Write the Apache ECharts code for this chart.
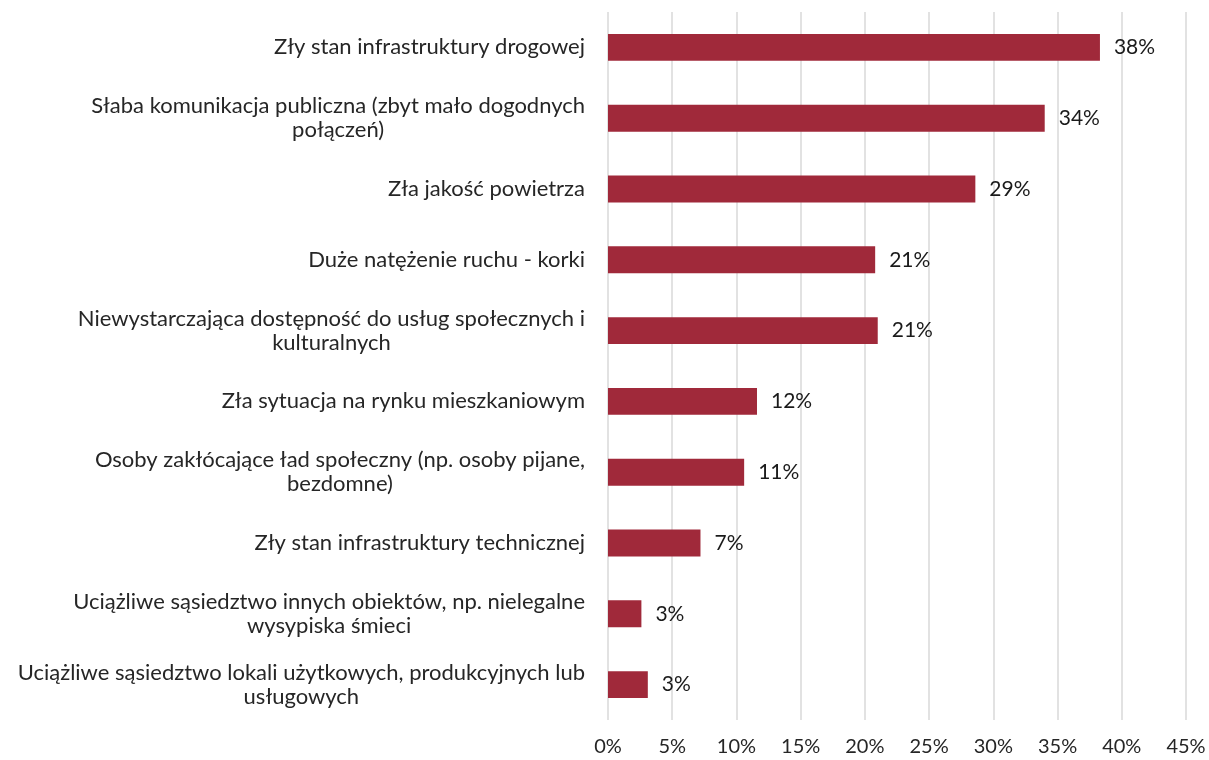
<!DOCTYPE html>
<html>
<head>
<meta charset="utf-8">
<script src="https://cdn.jsdelivr.net/npm/echarts@6/dist/echarts.min.js"></script>
<style>
  html, body { margin: 0; padding: 0; background: #fff; }
  #chart { width: 1209px; height: 760px; }
</style>
</head>
<body>
<div id="chart"></div>
<script>
// problemy w okolicy - odsetek wskazań
var categories = [
  "Zły stan infrastruktury drogowej",
  "Słaba komunikacja publiczna (zbyt mało dogodnych\npołączeń)",
  "Zła jakość powietrza",
  "Duże natężenie ruchu - korki",
  "Niewystarczająca dostępność do usług społecznych i\nkulturalnych",
  "Zła sytuacja na rynku mieszkaniowym",
  "Osoby zakłócające ład społeczny (np. osoby pijane,\nbezdomne)",
  "Zły stan infrastruktury technicznej",
  "Uciążliwe sąsiedztwo innych obiektów, np. nielegalne\nwysypiska śmieci",
  "Uciążliwe sąsiedztwo lokali użytkowych, produkcyjnych lub\nusługowych"
];
var values = [38.3, 34.0, 28.6, 20.8, 21.0, 11.6, 10.6, 7.2, 2.6, 3.1];
var xTicks = [0, 5, 10, 15, 20, 25, 30, 35, 40, 45];

var font = "Lato";
var chart = echarts.init(document.getElementById("chart"));
chart.setOption({
  animation: false,
  grid: { left: 608, right: 23, top: 12, bottom: 40 },
  xAxis: {
    type: "value",
    min: xTicks[0],
    max: xTicks[xTicks.length - 1],
    interval: 5,
    axisLine: { show: false },
    axisTick: { show: false },
    splitLine: { show: true, lineStyle: { color: "#d9d9d9", width: 1.5 } },
    axisLabel: {
      margin: 17,
      color: "#262626",
      fontFamily: font,
      fontSize: 20,
      formatter: function (v) { return v + "%"; }
    }
  },
  yAxis: {
    type: "category",
    inverse: true,
    data: categories,
    axisLine: { show: false },
    axisTick: { show: false },
    axisLabel: {
      margin: 23,
      color: "#262626",
      fontFamily: font,
      fontSize: 22,
      lineHeight: 24,
      align: "right",
      formatter: function (v) {
        return v.split("\n").map(function (s) { return "{c|" + s + "}"; }).join("\n");
      },
      rich: {
        c: { align: "center", fontFamily: font, fontSize: 22, lineHeight: 24, color: "#262626" }
      }
    }
  },
  series: [
    {
      type: "bar",
      data: values,
      barWidth: "38%",
      itemStyle: { color: "#a0293a" },
      label: {
        show: true,
        position: "right",
        distance: 14,
        color: "#1a1a1a",
        fontFamily: font,
        fontSize: 21,
        formatter: function (p) { return Math.round(p.value) + "%"; }
      }
    }
  ]
});
</script>
</body>
</html>
